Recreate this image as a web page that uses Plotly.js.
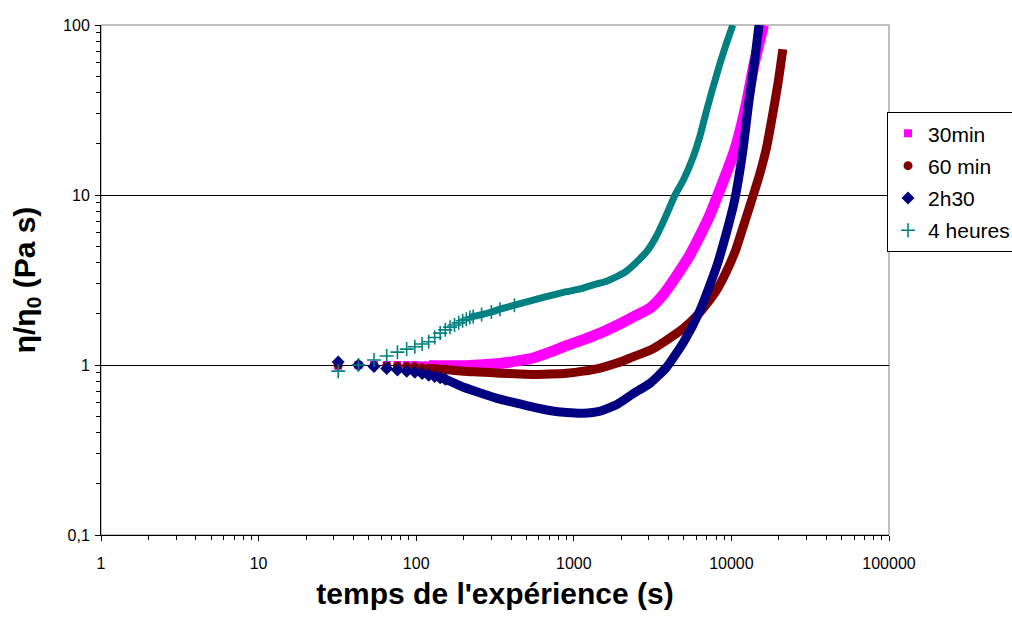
<!DOCTYPE html>
<html>
<head>
<meta charset="utf-8">
<script src="https://cdn.plot.ly/plotly-3.0.1.min.js"></script>
<style>
html,body{margin:0;padding:0;background:#fff;overflow:hidden;}
#chart{width:1012px;height:619px;}
</style>
</head>
<body>
<div id="chart"></div>
<script>
// ---- data ----
const seriesNames = ['30min', '60 min', '2h30', '4 heures'];

const t30 = [32, 43, 54, 65, 76, 87, 98, 109, 120, 131, 142, 153, 200, 250, 340, 450, 553, 706, 901, 1150, 1470, 1900, 2390, 3045, 3700, 4390, 5450, 6300, 7200, 8200, 9300, 10500, 11500, 12500, 14000, 16000];
const y30 = [0.99, 1.0, 1.0, 1.0, 1.0, 1.0, 1.0, 0.995, 0.995, 0.99, 0.99, 0.99, 0.99, 1.0, 1.02, 1.06, 1.1, 1.19, 1.3, 1.41, 1.54, 1.72, 1.92, 2.16, 2.6, 3.25, 4.44, 5.74, 7.4, 10, 13.5, 18.4, 25, 35, 60, 100];

const t60 = [32, 43, 54, 65, 76, 87, 98, 109, 120, 131, 142, 153, 200, 250, 340, 456, 553, 700, 901, 1150, 1470, 1900, 2390, 3045, 3880, 4990, 6050, 7000, 8060, 9300, 10640, 12000, 13770, 15200, 16700, 18300, 19800, 21200];
const y60 = [1.0, 1.0, 0.99, 0.99, 0.985, 0.98, 0.975, 0.965, 0.955, 0.95, 0.945, 0.94, 0.92, 0.91, 0.895, 0.885, 0.88, 0.885, 0.895, 0.92, 0.96, 1.03, 1.12, 1.22, 1.4, 1.65, 1.95, 2.3, 2.76, 3.55, 4.74, 6.7, 10, 13.5, 19, 30, 46, 72];

const t230 = [32, 43, 54, 65, 76, 87, 98, 109, 120, 131, 142, 153, 200, 250, 340, 456, 553, 700, 901, 1140, 1470, 1900, 2390, 3045, 3880, 4990, 6300, 8060, 9300, 10500, 11800, 12940, 14000, 14970];
const y230 = [1.04, 1.0, 0.98, 0.955, 0.935, 0.92, 0.905, 0.89, 0.87, 0.855, 0.84, 0.825, 0.74, 0.69, 0.63, 0.59, 0.565, 0.54, 0.525, 0.52, 0.535, 0.59, 0.68, 0.78, 0.97, 1.37, 2.08, 3.8, 6.0, 9.4, 18, 36, 60, 100];

const t4h = [32, 43, 54, 65, 76, 87, 98, 109, 120, 131, 142, 153, 164, 175, 186, 197, 208, 219, 230, 260, 300, 340, 420, 553, 700, 901, 1100, 1330, 1600, 1870, 2100, 2390, 2650, 2900, 3300, 3700, 4000, 4390, 4950, 5730, 6300, 6970, 7700, 8470, 9300, 10200];
const y4h = [0.92, 1.0, 1.07, 1.13, 1.19, 1.24, 1.28, 1.33, 1.37, 1.45, 1.54, 1.61, 1.67, 1.72, 1.77, 1.82, 1.86, 1.9, 1.93, 1.98, 2.05, 2.13, 2.25, 2.41, 2.55, 2.7, 2.8, 2.96, 3.1, 3.31, 3.5, 3.87, 4.25, 4.64, 5.6, 6.97, 8.2, 10, 12.2, 16.8, 22, 31.6, 44, 59.5, 78, 100];

const xTickVals = [1, 10, 100, 1000, 10000, 100000];
const xTickText = ['1', '10', '100', '1000', '10000', '100000'];
const yTickVals = [0.1, 1, 10, 100];
const yTickText = ['0,1', '1', '10', '100'];

// ---- styling ----
const FONT = 'Arial, "Liberation Sans", sans-serif';
const colors = ['#FF00FF', '#800000', '#000080', '#008080'];
const symbols = ['square', 'circle', 'diamond', 'cross-thin-open'];
const msize = [8, 9, 10, 10];
const bandWidth = [11, 9, 9, 7];
const bandFrom = [120, 120, 142, 219];   // band (dense overlapping marks) begins here
const markUpTo = [153, 153, 153, 420];   // separate marks drawn up to here
const allT = [t30, t60, t230, t4h];
const allY = [y30, y60, y230, y4h];

const traces = [];
for (let i = 0; i < 4; i++) {
  const bt = [], by = [], mt = [], my = [];
  allT[i].forEach((t, k) => {
    if (t >= bandFrom[i]) { bt.push(t); by.push(allY[i][k]); }
    if (t <= markUpTo[i]) { mt.push(t); my.push(allY[i][k]); }
  });
  traces.push({
    x: bt, y: by, type: 'scatter', mode: 'lines', showlegend: false,
    legendgroup: 'g' + i, hoverinfo: 'skip',
    line: {color: colors[i], width: bandWidth[i], shape: 'spline', smoothing: 0.5}
  });
  const m = {symbol: symbols[i], size: msize[i], color: colors[i]};
  if (i === 3) m.line = {color: colors[i], width: 1.6};
  traces.push({
    x: mt, y: my, type: 'scatter', mode: 'markers', name: seriesNames[i],
    legendgroup: 'g' + i, marker: m
  });
}

// minor tick positions (2..9 in every decade)
function minorVals(lo, hi) {
  const v = [];
  for (let d = lo; d < hi; d++) for (let m = 2; m <= 9; m++) v.push(m * Math.pow(10, d));
  return v;
}
const xMinor = minorVals(0, 5);
const yMinor = minorVals(-1, 2);

const shapes = [
  {type: 'rect', xref: 'paper', yref: 'paper', x0: 0, x1: 1, y0: 0, y1: 1,
   line: {color: '#808080', width: 1}, layer: 'below'}
];

const axBase = {
  type: 'log', zeroline: false,
  tickfont: {family: FONT, size: 16, color: '#000'},
  tickcolor: '#000', tickwidth: 1
};

const layout = {
  width: 1012, height: 619,
  margin: {l: 101, r: 123, t: 25, b: 84, pad: 0, autoexpand: false},
  paper_bgcolor: '#fff', plot_bgcolor: '#fff',
  font: {family: FONT, color: '#000'},
  showlegend: true,
  xaxis: Object.assign({}, axBase, {
    range: [0, 5], tickmode: 'array', tickvals: xTickVals, ticktext: xTickText,
    showgrid: false, ticks: 'outside', ticklen: 5, ticklabelstandoff: 9,
    showline: true, linecolor: '#000', linewidth: 1,
    minor: {tickmode: 'array', tickvals: xMinor, ticks: 'outside', ticklen: 4, tickcolor: '#000', showgrid: false},
    title: {text: "<b>temps de l'expérience (s)</b>", font: {family: FONT, size: 30, color: '#000'}, standoff: 11}
  }),
  xaxis2: Object.assign({}, axBase, {
    overlaying: 'x', anchor: 'y', side: 'bottom', showgrid: false,
    range: [0, 5], tickmode: 'array', tickvals: xTickVals, ticks: 'inside', ticklen: 4,
    showticklabels: false, showline: false,
    minor: {tickmode: 'array', tickvals: xMinor, ticks: 'inside', ticklen: 4, tickcolor: '#000', showgrid: false}
  }),
  yaxis: Object.assign({}, axBase, {
    range: [-1, 2], tickmode: 'array', tickvals: yTickVals, ticktext: yTickText,
    showgrid: true, gridcolor: '#000', gridwidth: 1,
    ticks: 'outside', ticklen: 5, ticklabelstandoff: 2,
    showline: true, linecolor: '#000', linewidth: 1,
    minor: {tickmode: 'array', tickvals: yMinor, ticks: 'outside', ticklen: 4, tickcolor: '#000', showgrid: false},
    title: {text: '<b>η/η<sub>0</sub> (Pa s)</b>', font: {family: FONT, size: 30, color: '#000'}, standoff: 18}
  }),
  yaxis2: Object.assign({}, axBase, {
    overlaying: 'y', anchor: 'x', side: 'left', showgrid: false,
    range: [-1, 2], tickmode: 'array', tickvals: yTickVals, ticks: 'inside', ticklen: 4,
    showticklabels: false, showline: false,
    minor: {tickmode: 'array', tickvals: yMinor, ticks: 'inside', ticklen: 4, tickcolor: '#000', showgrid: false}
  }),
  legend: {
    x: 0.9975, xanchor: 'left', y: 0.829, yanchor: 'top',
    bordercolor: '#000', borderwidth: 1, bgcolor: '#fff',
    font: {family: FONT, size: 21, color: '#000'},
    traceorder: 'grouped', tracegroupgap: 2, itemwidth: 30
  },
  shapes: shapes
};

Plotly.newPlot('chart', traces, layout, {displayModeBar: false, staticPlot: true});
</script>
</body>
</html>
